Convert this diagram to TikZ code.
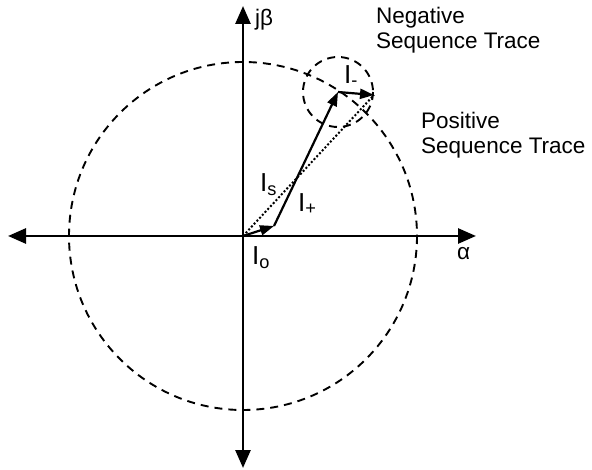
\documentclass[tikz,border=0pt]{standalone}
\usepackage{fontspec}
\setmainfont{Liberation Sans}
\usetikzlibrary{arrows.meta, positioning, calc}

\begin{document}
\begin{tikzpicture}[
x=1pt, y=-1pt,
>={Triangle[length=18pt,width=15pt]},
axis/.style={<->, line width=2.8pt},
trace/.style={line width=1.9pt, dash pattern=on 8pt off 6pt},
vec/.style={-{Triangle[length=14pt,width=10pt]}, line width=2.2pt},
sumvec/.style={line width=2pt, dotted},
lab/.style={font=\fontsize{22.5}{25}\selectfont, inner sep=0pt},
sym/.style={font=\fontsize{26}{28}\selectfont, inner sep=0pt}
]
\useasboundingbox (0,0) rectangle (592,470);

% Points
\coordinate (O) at (243,236);
\coordinate (xl) at (8,236);
\coordinate (xr) at (476,236);
\coordinate (yb) at (243,468);
\coordinate (yt) at (243,6);
\coordinate (i0) at (274,226);
\coordinate (ip) at (338,92);
\coordinate (in) at (374,95);

% Axes
\draw[axis] (xl) -- (xr);
\draw[axis] (yb) -- (yt);
\node[lab, anchor=west] (alpha) at (457,254) {α};
\node[lab, anchor=west] (jb) at (255,20) {jβ};

% Traces
\draw[trace] (O) circle[radius=174];
\draw[trace] (ip) circle[radius=35];

% Vectors
\draw[sumvec] (O) -- (in);
\draw[vec] (O) -- (i0);
\draw[vec] (i0) -- (ip);
\draw[vec] (ip) -- (in);

% Labels
\node[sym, anchor=west] (l0) at (252,258) {I\textsubscript{o}};
\node[sym, anchor=west] (ls) at (260,185) {I\textsubscript{s}};
\node[sym, anchor=west] (lp) at (298,204) {I\textsubscript{+}};
\node[sym, anchor=west] (ln) at (344,76) {I\textsubscript{-}};

\node[lab, align=left, anchor=west] (neg) at (376,30) {Negative\\Sequence Trace};
\node[lab, align=left, anchor=west] (pos) at (421,135) {Positive\\Sequence Trace};
\end{tikzpicture}
\end{document}
